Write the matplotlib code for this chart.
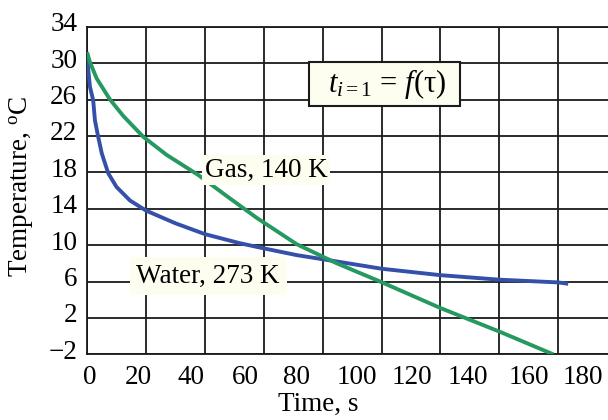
import numpy as np
import matplotlib
matplotlib.use("Agg")
import matplotlib.pyplot as plt
import matplotlib.transforms as mtransforms
from matplotlib.ticker import FixedLocator, NullFormatter, FixedFormatter

plt.rcParams['font.family'] = ['Liberation Serif', 'DejaVu Serif']
plt.rcParams['mathtext.fontset'] = 'custom'
plt.rcParams['mathtext.rm'] = 'Liberation Serif'
plt.rcParams['mathtext.it'] = 'Liberation Serif:italic'

# curves (time in grid units, temperature in oC)
water_time = [0, 0.45, 1.0, 2.1, 2.7, 3.8, 5.0, 7.2, 10.0, 14.6, 20.0, 30.0, 40.1, 52.0,
              59.9, 71.2, 84.8, 100.1, 119.9, 140.0, 160.0, 163.4]
water_temp = [31.2, 29.2, 27.4, 25.9, 23.7, 21.9, 20.1, 17.9, 16.4, 14.9, 13.8, 12.4, 11.2, 10.2,
              9.65, 8.9, 8.2, 7.4, 6.7, 6.2, 5.9, 5.75]

gas_time = [0, 1.0, 3.3, 7.8, 12.3, 19.1, 27.1, 37.8, 47.4, 57.6, 71.2, 84.8, 99.5,
            119.9, 140.0, 158.3]
gas_temp = [31.2, 30.1, 28.3, 26.0, 24.2, 21.9, 19.9, 17.7, 15.4, 13.0, 10.1, 8.0, 6.0,
            3.1, 0.5, -2.0]

grid_times = [0, 20, 40, 60, 80, 100, 120, 140, 160]
x_labels = ["0", "20", "40", "60", "80", "100", "120", "140", "160", "180"]
y_ticks = [-2, 2, 6, 10, 14, 18, 22, 26, 30, 34]

# the tick labels in the picture do not sit on the grid lines
x_label_pos = [1.0, 17.3, 35.3, 53.7, 71.3, 91.7, 110.4, 129.4, 150.1, 168.4]

fs = 19.5

fig = plt.figure(figsize=(6.08, 4.2), dpi=100)
ax = fig.add_axes([87/608, 65.7/420, 521/608, 327.6/420])

ax.plot(water_time, water_temp, color='#3550a8', lw=2.8, solid_joinstyle='round',
        solid_capstyle='butt', zorder=3)
ax.plot(gas_time, gas_temp, color='#25995f', lw=2.8, solid_joinstyle='round',
        solid_capstyle='butt', zorder=3)

ax.set_xlim(0, 521/2.945)
ax.set_ylim(-2, 34)

ax.xaxis.set_major_locator(FixedLocator(grid_times))
ax.xaxis.set_major_formatter(NullFormatter())
ax.xaxis.set_minor_locator(FixedLocator(x_label_pos))
ax.xaxis.set_minor_formatter(FixedFormatter(x_labels))
ax.set_yticks(y_ticks)
ax.tick_params(axis='x', which='both', length=0, labelsize=fs, pad=8)
ax.tick_params(axis='y', length=0, labelsize=fs, pad=7)
for lab in ax.get_yticklabels():
    lab.set_transform(lab.get_transform() +
                      mtransforms.ScaledTranslation(0, 5/100, fig.dpi_scale_trans))

ax.grid(True, which='major', color='#1a1a1a', lw=1.3)
ax.set_axisbelow(True)
for s in ['left', 'bottom', 'top']:
    ax.spines[s].set_color('#1a1a1a')
    ax.spines[s].set_linewidth(1.3)
ax.spines['right'].set_visible(False)

ax.text(60.8, 18.25, "Gas, 140 K", ha='center', va='center', fontsize=fs, zorder=4,
        bbox=dict(boxstyle='square,pad=0.1', fc='#fdfdf0', ec='none'))
ax.text(41.1, 6.6, "Water, 273 K", ha='center', va='center', fontsize=fs, zorder=4,
        bbox=dict(boxstyle='square,pad=0.25', fc='#fdfdf0', ec='none'))
ax.text(101, 27.7, r"  $t_{i\mathrm{=1}}$ = $f$(τ)  ", ha='center', va='center', fontsize=22,
        zorder=4, bbox=dict(boxstyle='square,pad=0.15', fc='#fdfdf0', ec='#1a1a1a', lw=1.5))

fig.text(318/608, 1 - 404/420, "Time, s", ha='center', va='center', fontsize=fs)
fig.text(21.7/608, 1 - 186/420, r"Temperature, $^{\mathrm{o}}$C", ha='center', va='center',
         rotation=90, fontsize=fs)

fig.savefig("out.png", dpi=100)
